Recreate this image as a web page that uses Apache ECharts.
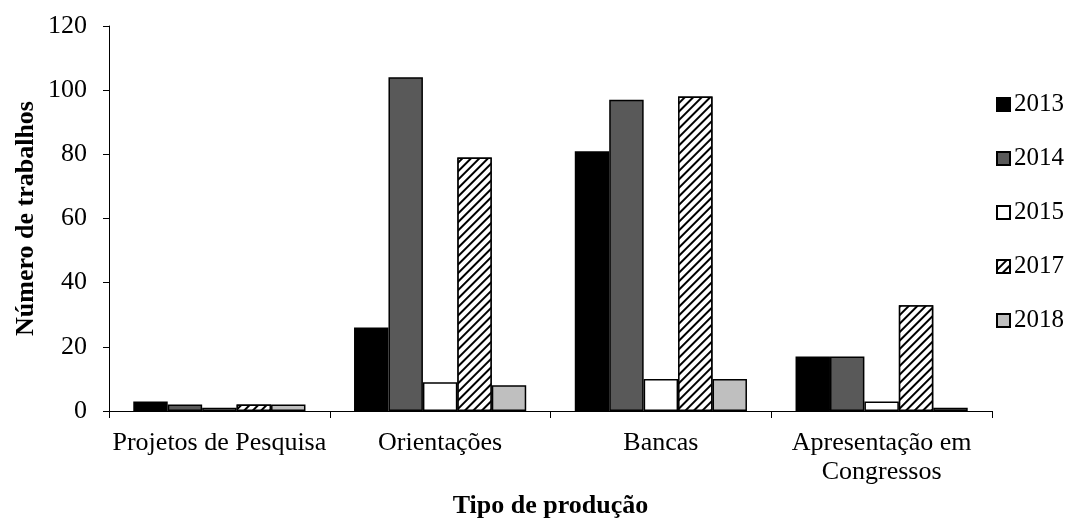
<!DOCTYPE html>
<html>
<head>
<meta charset="utf-8">
<script src="https://cdn.jsdelivr.net/npm/echarts@6/dist/echarts.min.js"></script>
<style>
html, body { margin: 0; padding: 0; background: #fff; }
#main { width: 1071px; height: 527px; }
</style>
</head>
<body>
<div id="main"></div>
<script>
var categories = ['Projetos de Pesquisa', 'Orientações', 'Bancas', 'Apresentação em\nCongressos'];
var years = ['2013', '2014', '2015', '2017', '2018'];
var v2013 = [3, 26, 81, 17];
var v2014 = [2, 104, 97, 17];
var v2015 = [1, 9, 10, 3];
var v2017 = [2, 79, 98, 33];
var v2018 = [2, 8, 10, 1];
var yTicks = [0, 20, 40, 60, 80, 100, 120];

var font = 'Liberation Serif';

function display() {
	var myChart = echarts.init(document.getElementById('main'));

	// hachurado diagonal da série 2017
	var hatch = {
		symbol: 'rect',
		symbolSize: 1,
		color: '#000',
		backgroundColor: '#fff',
		dashArrayX: [1, 0],
		dashArrayY: [2, 4],
		rotation: -Math.PI / 4
	};

	function bar(name, data, color, decal) {
		var style = {color: color, borderColor: '#000', borderWidth: 1.5};
		if (decal) style.decal = decal;
		return {
			name: name,
			type: 'bar',
			data: data,
			barGap: '0%',
			barCategoryGap: '22%',
			itemStyle: style
		};
	}

	var option = {
		animation: false,
		backgroundColor: '#fff',
		textStyle: {fontFamily: font},
		grid: {left: 109, right: 79, top: 26, bottom: 116, outerBoundsMode: 'none', containLabel: false},
		legend: {
			orient: 'vertical',
			right: 2,
			top: 87,
			itemWidth: 13,
			itemHeight: 13,
			itemGap: 29,
			icon: 'rect',
			textStyle: {fontFamily: font, fontSize: 25, color: '#000', padding: [0, 0, 0, -1]},
			data: years
		},
		xAxis: {
			type: 'category',
			data: categories,
			name: 'Tipo de produção',
			nameLocation: 'middle',
			nameGap: 82,
			nameMoveOverlap: false,
			nameTextStyle: {fontFamily: font, fontSize: 26, fontWeight: 'bold', color: '#000'},
			axisLine: {lineStyle: {color: '#000', width: 1}},
			axisTick: {show: true, length: 7, lineStyle: {color: '#000'}},
			axisLabel: {fontFamily: font, fontSize: 26, color: '#000', margin: 18, lineHeight: 29, interval: 0}
		},
		yAxis: {
			type: 'value',
			min: yTicks[0],
			max: yTicks[yTicks.length - 1],
			interval: 20,
			name: 'Número de trabalhos',
			nameLocation: 'middle',
			nameGap: 70,
			nameMoveOverlap: false,
			nameTextStyle: {fontFamily: font, fontSize: 26, fontWeight: 'bold', color: '#000'},
			axisLine: {show: true, lineStyle: {color: '#000', width: 1}},
			axisTick: {show: true, length: 6, lineStyle: {color: '#000'}},
			splitLine: {show: false},
			axisLabel: {fontFamily: font, fontSize: 26, color: '#000', margin: 22}
		},
		series: [
			bar('2013', v2013, '#000000'),
			bar('2014', v2014, '#595959'),
			bar('2015', v2015, '#ffffff'),
			bar('2017', v2017, '#ffffff', hatch),
			bar('2018', v2018, '#bfbfbf')
		]
	};

	myChart.setOption(option);
}

display();
</script>
</body>
</html>
